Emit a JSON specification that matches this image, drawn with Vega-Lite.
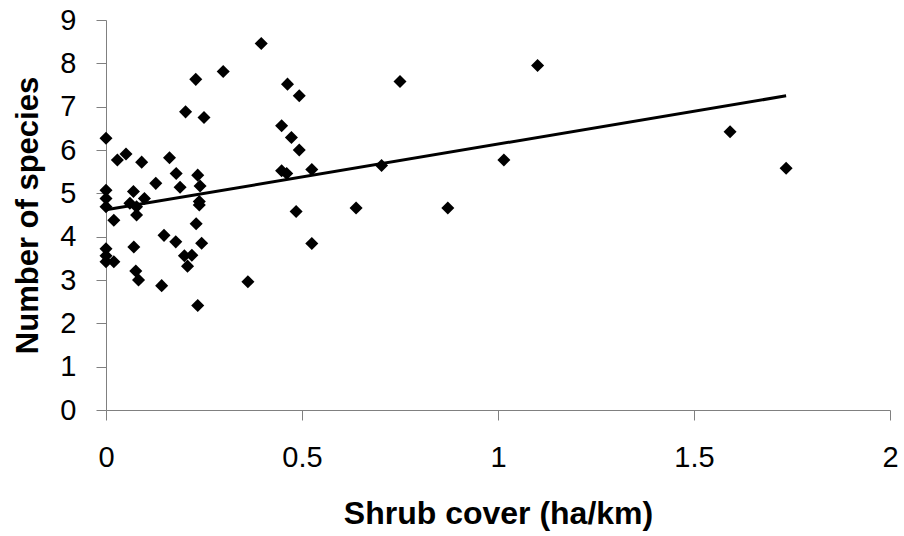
{
  "$schema": "https://vega.github.io/schema/vega-lite/v6.json",
  "width": 784,
  "height": 390,
  "autosize": {"type": "none"},
  "padding": {"left": 106, "top": 20, "right": 14, "bottom": 126},
  "background": "white",
  "config": {"view": {"stroke": null}, "font": "Liberation Sans"},
  "datasets": {
    "points": [
      {"cover": 0, "species": 6.27}, {"cover": 0, "species": 5.07}, {"cover": 0, "species": 4.88},
      {"cover": 0, "species": 4.69}, {"cover": 0, "species": 3.72}, {"cover": 0, "species": 3.56},
      {"cover": 0, "species": 3.42}, {"cover": 0.02, "species": 4.38}, {"cover": 0.02, "species": 3.42},
      {"cover": 0.029, "species": 5.77}, {"cover": 0.051, "species": 5.91}, {"cover": 0.07, "species": 5.04},
      {"cover": 0.061, "species": 4.77}, {"cover": 0.078, "species": 4.69}, {"cover": 0.078, "species": 4.5},
      {"cover": 0.098, "species": 4.88}, {"cover": 0.091, "species": 5.72}, {"cover": 0.071, "species": 3.76},
      {"cover": 0.076, "species": 3.21}, {"cover": 0.083, "species": 3.0}, {"cover": 0.127, "species": 5.23},
      {"cover": 0.142, "species": 2.87}, {"cover": 0.148, "species": 4.03}, {"cover": 0.162, "species": 5.82},
      {"cover": 0.179, "species": 5.46}, {"cover": 0.189, "species": 5.14}, {"cover": 0.178, "species": 3.88},
      {"cover": 0.203, "species": 6.88}, {"cover": 0.2, "species": 3.56}, {"cover": 0.219, "species": 3.57},
      {"cover": 0.208, "species": 3.32}, {"cover": 0.229, "species": 7.63}, {"cover": 0.234, "species": 5.42},
      {"cover": 0.24, "species": 5.17}, {"cover": 0.238, "species": 4.81}, {"cover": 0.238, "species": 4.73},
      {"cover": 0.23, "species": 4.3}, {"cover": 0.244, "species": 3.85}, {"cover": 0.234, "species": 2.41},
      {"cover": 0.25, "species": 6.75}, {"cover": 0.299, "species": 7.81}, {"cover": 0.362, "species": 2.96},
      {"cover": 0.396, "species": 8.46}, {"cover": 0.448, "species": 6.56}, {"cover": 0.448, "species": 5.52},
      {"cover": 0.461, "species": 5.46}, {"cover": 0.463, "species": 7.52}, {"cover": 0.473, "species": 6.29},
      {"cover": 0.485, "species": 4.58}, {"cover": 0.493, "species": 7.25}, {"cover": 0.493, "species": 6.0},
      {"cover": 0.525, "species": 5.55}, {"cover": 0.525, "species": 3.84}, {"cover": 0.638, "species": 4.66},
      {"cover": 0.703, "species": 5.64}, {"cover": 0.75, "species": 7.58}, {"cover": 0.872, "species": 4.66},
      {"cover": 1.015, "species": 5.77}, {"cover": 1.101, "species": 7.95}, {"cover": 1.592, "species": 6.42},
      {"cover": 1.735, "species": 5.58}
    ],
    "trend": [
      {"cover": 0, "species": 4.62},
      {"cover": 1.735, "species": 7.25}
    ]
  },
  "layer": [
    {
      "data": {"name": "points"},
      "mark": {"type": "point", "shape": "diamond", "filled": true, "color": "black", "opacity": 1, "size": 170},
      "encoding": {
        "x": {
          "field": "cover", "type": "quantitative",
          "scale": {"domain": [0, 2], "nice": false, "zero": false},
          "axis": {
            "values": [0, 0.5, 1, 1.5, 2], "format": "~g", "grid": false,
            "domainColor": "#808080", "tickColor": "#808080", "tickSize": 10,
            "labelFontSize": 29, "labelColor": "black", "labelPadding": 23,
            "labelFlush": false, "labelOverlap": false,
            "title": "Shrub cover (ha/km)", "titleFontSize": 32, "titleFontWeight": "bold",
            "titleColor": "black", "titleBaseline": "alphabetic", "titleY": 113
          }
        },
        "y": {
          "field": "species", "type": "quantitative",
          "scale": {"domain": [0, 9], "nice": false},
          "axis": {
            "values": [0, 1, 2, 3, 4, 5, 6, 7, 8, 9], "grid": false,
            "domainColor": "#808080", "tickColor": "#808080", "tickSize": 10,
            "labelFontSize": 29, "labelColor": "black", "labelPadding": 20,
            "labelFlush": false, "labelOverlap": false,
            "title": "Number of species", "titleFontSize": 31, "titleFontWeight": "bold",
            "titleColor": "black", "titleBaseline": "alphabetic", "titleX": -69
          }
        }
      }
    },
    {
      "data": {"name": "trend"},
      "mark": {"type": "line", "color": "black", "strokeWidth": 3},
      "encoding": {
        "x": {"field": "cover", "type": "quantitative"},
        "y": {"field": "species", "type": "quantitative"}
      }
    }
  ]
}
